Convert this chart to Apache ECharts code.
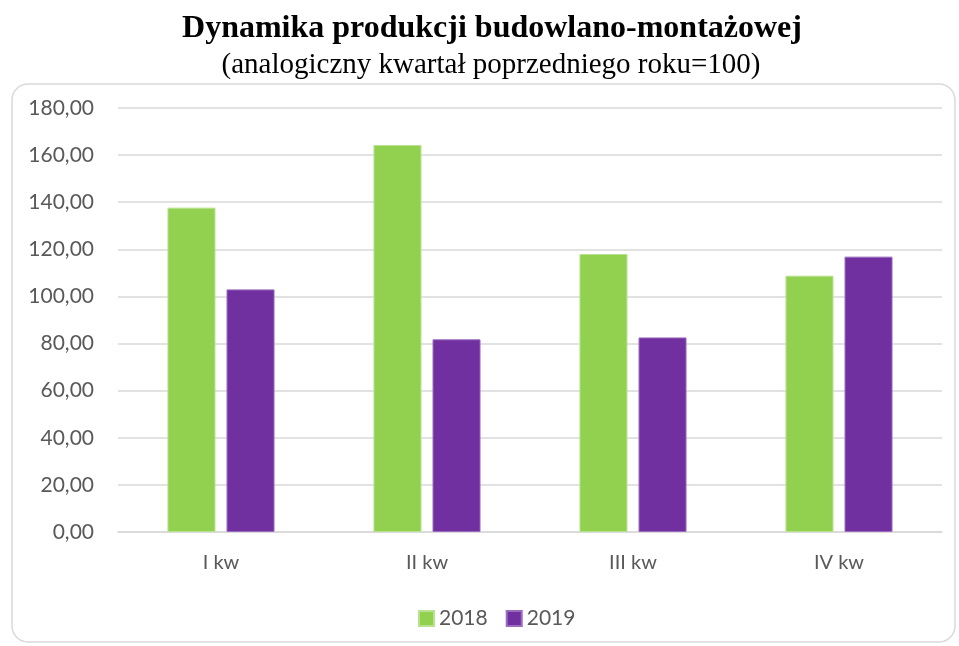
<!DOCTYPE html>
<html>
<head>
<meta charset="utf-8">
<script src="https://cdn.jsdelivr.net/npm/echarts@6/dist/echarts.min.js"></script>
<style>
  html, body { margin: 0; padding: 0; background: #ffffff; }
  #chart { width: 959px; height: 646px; }
</style>
</head>
<body>
<div id="chart"></div>
<script>
// Quarters shown on the category axis
const quarters = ['I kw', 'II kw', 'III kw', 'IV kw'];
// Index values (same quarter of previous year = 100)
const values2018 = [137.7, 164.3, 118.0, 108.8];
const values2019 = [103.0, 81.8, 82.6, 116.9];
const seriesNames = ['2018', '2019'];

const chart = echarts.init(document.getElementById('chart'));

const labelFont = 'Lato, "Open Sans", sans-serif';
const serifFont = '"Liberation Serif", "DejaVu Serif", serif';
const fmt = v => v.toFixed(2).replace('.', ',');

chart.setOption({
  animation: false,
  backgroundColor: '#ffffff',
  graphic: [{
    type: 'rect',
    shape: { x: 12, y: 84, width: 943, height: 558, r: 16 },
    style: { fill: 'none', stroke: '#d9d9d9', lineWidth: 1.5 },
    silent: true,
    z: -1
  }],
  title: [{
    text: 'Dynamika produkcji budowlano-montażowej',
    left: 487,
    textAlign: 'center',
    top: 8,
    textStyle: {
      fontFamily: serifFont,
      fontWeight: 'bold',
      fontSize: 32,
      color: '#000000'
    }
  }, {
    text: '(analogiczny kwartał poprzedniego roku=100)',
    left: 486,
    textAlign: 'center',
    top: 46,
    textStyle: {
      fontFamily: serifFont,
      fontWeight: 'normal',
      fontSize: 29,
      color: '#000000'
    }
  }],
  legend: {
    data: seriesNames,
    left: 413,
    top: 603,
    itemWidth: 15,
    itemHeight: 15,
    itemGap: 18,
    icon: 'rect',
    textStyle: { fontFamily: labelFont, fontSize: 21, color: '#595959' }
  },
  grid: { left: 118, right: 17, top: 108, bottom: 114 },
  xAxis: {
    type: 'category',
    data: quarters,
    axisLine: { show: true, lineStyle: { color: '#d9d9d9', width: 1.5 } },
    axisTick: { show: false },
    axisLabel: { fontFamily: labelFont, fontSize: 20, color: '#595959', margin: 21 }
  },
  yAxis: {
    type: 'value',
    min: 0,
    max: 180,
    interval: 20,
    axisLine: { show: false },
    axisTick: { show: false },
    splitLine: { lineStyle: { color: '#d9d9d9', width: 1.5 } },
    axisLabel: { fontFamily: labelFont, fontSize: 21, color: '#595959', margin: 24, formatter: fmt }
  },
  series: [{
    name: seriesNames[0],
    type: 'bar',
    data: values2018,
    barWidth: 48,
    barGap: '23%',
    itemStyle: { color: '#92d050', borderColor: '#b8e28f', borderWidth: 1 }
  }, {
    name: seriesNames[1],
    type: 'bar',
    data: values2019,
    barWidth: 48,
    itemStyle: { color: '#7030a0', borderColor: '#9a6bbf', borderWidth: 1 }
  }]
});
</script>
</body>
</html>
